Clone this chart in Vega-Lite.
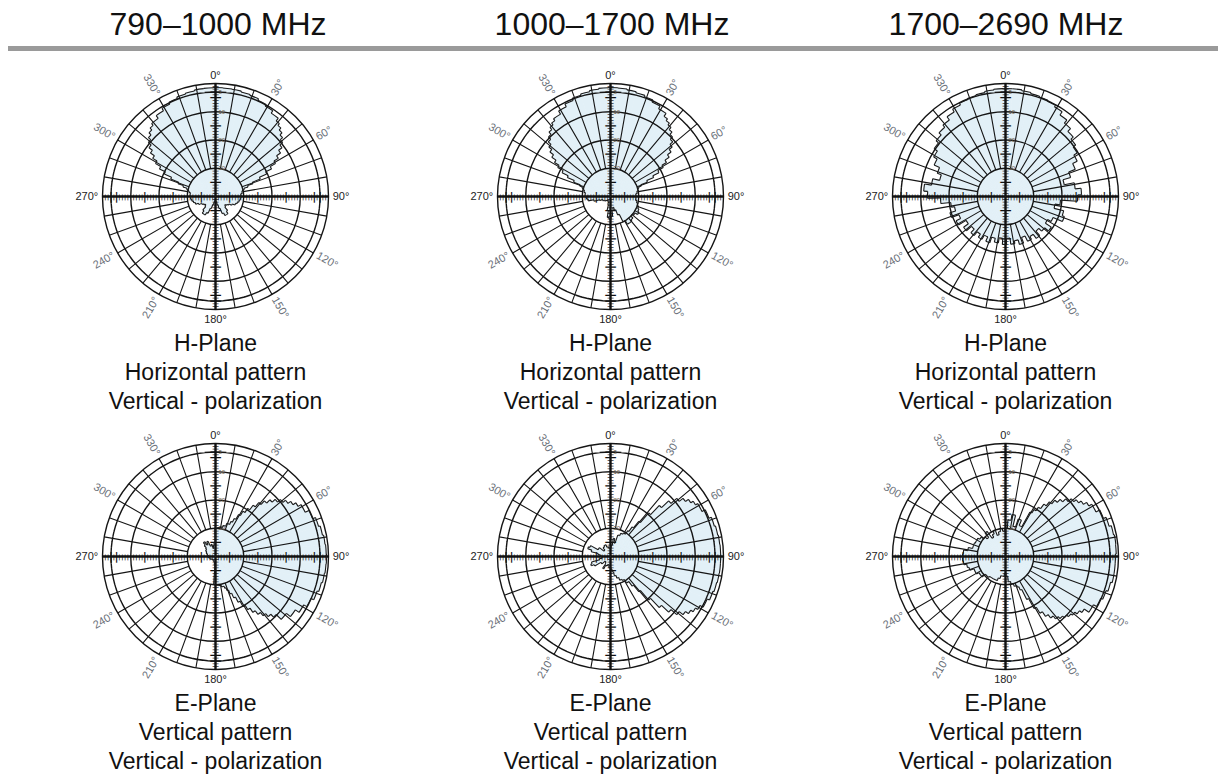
{
"$schema": "https://vega.github.io/schema/vega-lite/v6.json",
"padding": {"left": 8, "top": 0, "right": 0, "bottom": 0},
"bounds": "flush",
"spacing": 2,
"config": {"view": {"stroke": null}, "font": "Liberation Sans"},
"datasets": {
"rings": [{"r": -30}, {"r": -20}, {"r": -10}, {"r": 0}],
"dashed": [{"r": -3}],
"spokes": [{"deg":10},{"deg":20},{"deg":30},{"deg":40},{"deg":50},{"deg":60},{"deg":70},{"deg":80},{"deg":100},{"deg":110},{"deg":120},{"deg":130},{"deg":140},{"deg":150},{"deg":160},{"deg":170},{"deg":190},{"deg":200},{"deg":210},{"deg":220},{"deg":230},{"deg":240},{"deg":250},{"deg":260},{"deg":280},{"deg":290},{"deg":300},{"deg":310},{"deg":320},{"deg":330},{"deg":340},{"deg":350}],
"axes": [{"deg":0},{"deg":90},{"deg":180},{"deg":270}],
"ticks": [{"db":-39,"k":"minor"},{"db":-38,"k":"minor"},{"db":-37,"k":"minor"},{"db":-36,"k":"minor"},{"db":-35,"k":"major"},{"db":-34,"k":"minor"},{"db":-33,"k":"minor"},{"db":-32,"k":"minor"},{"db":-31,"k":"minor"},{"db":-29,"k":"minor"},{"db":-28,"k":"minor"},{"db":-27,"k":"minor"},{"db":-26,"k":"minor"},{"db":-25,"k":"major"},{"db":-24,"k":"minor"},{"db":-23,"k":"minor"},{"db":-22,"k":"minor"},{"db":-21,"k":"minor"},{"db":-19,"k":"minor"},{"db":-18,"k":"minor"},{"db":-17,"k":"minor"},{"db":-16,"k":"minor"},{"db":-15,"k":"major"},{"db":-14,"k":"minor"},{"db":-13,"k":"minor"},{"db":-12,"k":"minor"},{"db":-11,"k":"minor"},{"db":-9,"k":"minor"},{"db":-8,"k":"minor"},{"db":-7,"k":"minor"},{"db":-6,"k":"minor"},{"db":-5,"k":"major"},{"db":-4,"k":"minor"},{"db":-3,"k":"major"},{"db":-2,"k":"minor"},{"db":-1,"k":"minor"}],
"dblabels": [{"db":-3,"t":"3"},{"db":-10,"t":"10"},{"db":-20,"t":"20"},{"db":-30,"t":"30"}],
"angles": [{"deg":0,"t":"0°"},{"deg":30,"t":"30°"},{"deg":60,"t":"60°"},{"deg":90,"t":"90°"},{"deg":120,"t":"120°"},{"deg":150,"t":"150°"},{"deg":180,"t":"180°"},{"deg":210,"t":"210°"},{"deg":240,"t":"240°"},{"deg":270,"t":"270°"},{"deg":300,"t":"300°"},{"deg":330,"t":"330°"}],
"pattern": [
{"band":"790–1000 MHz","plane":"H","deg":0,"db":-1.4},{"band":"790–1000 MHz","plane":"H","deg":5,"db":-1.5},{"band":"790–1000 MHz","plane":"H","deg":10,"db":-1.6},{"band":"790–1000 MHz","plane":"H","deg":15,"db":-1.9},{"band":"790–1000 MHz","plane":"H","deg":20,"db":-2.2},{"band":"790–1000 MHz","plane":"H","deg":25,"db":-2.8},{"band":"790–1000 MHz","plane":"H","deg":30,"db":-3.5},{"band":"790–1000 MHz","plane":"H","deg":35,"db":-4.5},{"band":"790–1000 MHz","plane":"H","deg":40,"db":-5.7},{"band":"790–1000 MHz","plane":"H","deg":42.5,"db":-6.5},{"band":"790–1000 MHz","plane":"H","deg":45,"db":-7.4},{"band":"790–1000 MHz","plane":"H","deg":47.5,"db":-8.4},{"band":"790–1000 MHz","plane":"H","deg":50,"db":-9.5},{"band":"790–1000 MHz","plane":"H","deg":52.5,"db":-10.8},{"band":"790–1000 MHz","plane":"H","deg":55,"db":-12.3},{"band":"790–1000 MHz","plane":"H","deg":57.5,"db":-14},{"band":"790–1000 MHz","plane":"H","deg":60,"db":-15.8},{"band":"790–1000 MHz","plane":"H","deg":62.5,"db":-17.9},{"band":"790–1000 MHz","plane":"H","deg":65,"db":-20.2},{"band":"790–1000 MHz","plane":"H","deg":67.5,"db":-23},{"band":"790–1000 MHz","plane":"H","deg":70,"db":-26},{"band":"790–1000 MHz","plane":"H","deg":72.5,"db":-28},{"band":"790–1000 MHz","plane":"H","deg":75,"db":-29.5},{"band":"790–1000 MHz","plane":"H","deg":77.5,"db":-30.2},{"band":"790–1000 MHz","plane":"H","deg":80,"db":-30.5},{"band":"790–1000 MHz","plane":"H","deg":85,"db":-31},{"band":"790–1000 MHz","plane":"H","deg":90,"db":-31},{"band":"790–1000 MHz","plane":"H","deg":95,"db":-31.2},{"band":"790–1000 MHz","plane":"H","deg":100,"db":-31.5},{"band":"790–1000 MHz","plane":"H","deg":105,"db":-32},{"band":"790–1000 MHz","plane":"H","deg":110,"db":-32.5},{"band":"790–1000 MHz","plane":"H","deg":115,"db":-33.5},{"band":"790–1000 MHz","plane":"H","deg":120,"db":-34.5},{"band":"790–1000 MHz","plane":"H","deg":125,"db":-35},{"band":"790–1000 MHz","plane":"H","deg":130,"db":-35.5},{"band":"790–1000 MHz","plane":"H","deg":135,"db":-35},{"band":"790–1000 MHz","plane":"H","deg":140,"db":-33.5},{"band":"790–1000 MHz","plane":"H","deg":145,"db":-32.5},{"band":"790–1000 MHz","plane":"H","deg":150,"db":-32.5},{"band":"790–1000 MHz","plane":"H","deg":155,"db":-33.5},{"band":"790–1000 MHz","plane":"H","deg":160,"db":-35.5},{"band":"790–1000 MHz","plane":"H","deg":165,"db":-37},{"band":"790–1000 MHz","plane":"H","deg":170,"db":-38},{"band":"790–1000 MHz","plane":"H","deg":175,"db":-38.5},{"band":"790–1000 MHz","plane":"H","deg":180,"db":-38.5},{"band":"790–1000 MHz","plane":"H","deg":185,"db":-38.5},{"band":"790–1000 MHz","plane":"H","deg":190,"db":-38},{"band":"790–1000 MHz","plane":"H","deg":195,"db":-37},{"band":"790–1000 MHz","plane":"H","deg":200,"db":-35.5},{"band":"790–1000 MHz","plane":"H","deg":205,"db":-33.5},{"band":"790–1000 MHz","plane":"H","deg":210,"db":-32.5},{"band":"790–1000 MHz","plane":"H","deg":215,"db":-32.5},{"band":"790–1000 MHz","plane":"H","deg":220,"db":-33.5},{"band":"790–1000 MHz","plane":"H","deg":225,"db":-35},{"band":"790–1000 MHz","plane":"H","deg":230,"db":-35.5},{"band":"790–1000 MHz","plane":"H","deg":235,"db":-35},{"band":"790–1000 MHz","plane":"H","deg":240,"db":-34.5},{"band":"790–1000 MHz","plane":"H","deg":245,"db":-33.5},{"band":"790–1000 MHz","plane":"H","deg":250,"db":-32.5},{"band":"790–1000 MHz","plane":"H","deg":255,"db":-32},{"band":"790–1000 MHz","plane":"H","deg":260,"db":-31.5},{"band":"790–1000 MHz","plane":"H","deg":265,"db":-31.2},{"band":"790–1000 MHz","plane":"H","deg":270,"db":-31},{"band":"790–1000 MHz","plane":"H","deg":275,"db":-31},{"band":"790–1000 MHz","plane":"H","deg":280,"db":-30.5},{"band":"790–1000 MHz","plane":"H","deg":282.5,"db":-30.2},{"band":"790–1000 MHz","plane":"H","deg":285,"db":-29.5},{"band":"790–1000 MHz","plane":"H","deg":287.5,"db":-28},{"band":"790–1000 MHz","plane":"H","deg":290,"db":-26},{"band":"790–1000 MHz","plane":"H","deg":292.5,"db":-23},{"band":"790–1000 MHz","plane":"H","deg":295,"db":-20.2},{"band":"790–1000 MHz","plane":"H","deg":297.5,"db":-17.9},{"band":"790–1000 MHz","plane":"H","deg":300,"db":-15.8},{"band":"790–1000 MHz","plane":"H","deg":302.5,"db":-14},{"band":"790–1000 MHz","plane":"H","deg":305,"db":-12.3},{"band":"790–1000 MHz","plane":"H","deg":307.5,"db":-10.8},{"band":"790–1000 MHz","plane":"H","deg":310,"db":-9.5},{"band":"790–1000 MHz","plane":"H","deg":312.5,"db":-8.4},{"band":"790–1000 MHz","plane":"H","deg":315,"db":-7.4},{"band":"790–1000 MHz","plane":"H","deg":317.5,"db":-6.5},{"band":"790–1000 MHz","plane":"H","deg":320,"db":-5.7},{"band":"790–1000 MHz","plane":"H","deg":325,"db":-4.5},{"band":"790–1000 MHz","plane":"H","deg":330,"db":-3.5},{"band":"790–1000 MHz","plane":"H","deg":335,"db":-2.8},{"band":"790–1000 MHz","plane":"H","deg":340,"db":-2.2},{"band":"790–1000 MHz","plane":"H","deg":345,"db":-1.9},{"band":"790–1000 MHz","plane":"H","deg":350,"db":-1.6},{"band":"790–1000 MHz","plane":"H","deg":355,"db":-1.5},{"band":"790–1000 MHz","plane":"H","deg":360,"db":-1.4},
{"band":"1000–1700 MHz","plane":"H","deg":0,"db":-1.4},{"band":"1000–1700 MHz","plane":"H","deg":5,"db":-1.5},{"band":"1000–1700 MHz","plane":"H","deg":10,"db":-1.8},{"band":"1000–1700 MHz","plane":"H","deg":15,"db":-2.2},{"band":"1000–1700 MHz","plane":"H","deg":20,"db":-2.7},{"band":"1000–1700 MHz","plane":"H","deg":25,"db":-3.5},{"band":"1000–1700 MHz","plane":"H","deg":30,"db":-4.6},{"band":"1000–1700 MHz","plane":"H","deg":35,"db":-5.9},{"band":"1000–1700 MHz","plane":"H","deg":37.5,"db":-6.7},{"band":"1000–1700 MHz","plane":"H","deg":40,"db":-7.5},{"band":"1000–1700 MHz","plane":"H","deg":42.5,"db":-8.5},{"band":"1000–1700 MHz","plane":"H","deg":45,"db":-9.6},{"band":"1000–1700 MHz","plane":"H","deg":47.5,"db":-10.7},{"band":"1000–1700 MHz","plane":"H","deg":50,"db":-12},{"band":"1000–1700 MHz","plane":"H","deg":52.5,"db":-13.4},{"band":"1000–1700 MHz","plane":"H","deg":55,"db":-15},{"band":"1000–1700 MHz","plane":"H","deg":57.5,"db":-16.8},{"band":"1000–1700 MHz","plane":"H","deg":60,"db":-18.7},{"band":"1000–1700 MHz","plane":"H","deg":62.5,"db":-20.9},{"band":"1000–1700 MHz","plane":"H","deg":65,"db":-23.3},{"band":"1000–1700 MHz","plane":"H","deg":67.5,"db":-26},{"band":"1000–1700 MHz","plane":"H","deg":70,"db":-28.5},{"band":"1000–1700 MHz","plane":"H","deg":72.5,"db":-29.5},{"band":"1000–1700 MHz","plane":"H","deg":75,"db":-30},{"band":"1000–1700 MHz","plane":"H","deg":80,"db":-30.5},{"band":"1000–1700 MHz","plane":"H","deg":85,"db":-31},{"band":"1000–1700 MHz","plane":"H","deg":90,"db":-31},{"band":"1000–1700 MHz","plane":"H","deg":95,"db":-31},{"band":"1000–1700 MHz","plane":"H","deg":100,"db":-30.5},{"band":"1000–1700 MHz","plane":"H","deg":105,"db":-30},{"band":"1000–1700 MHz","plane":"H","deg":110,"db":-29.5},{"band":"1000–1700 MHz","plane":"H","deg":115,"db":-29},{"band":"1000–1700 MHz","plane":"H","deg":120,"db":-28.5},{"band":"1000–1700 MHz","plane":"H","deg":125,"db":-29.5},{"band":"1000–1700 MHz","plane":"H","deg":130,"db":-30},{"band":"1000–1700 MHz","plane":"H","deg":135,"db":-29},{"band":"1000–1700 MHz","plane":"H","deg":140,"db":-28.5},{"band":"1000–1700 MHz","plane":"H","deg":145,"db":-28.5},{"band":"1000–1700 MHz","plane":"H","deg":150,"db":-30},{"band":"1000–1700 MHz","plane":"H","deg":155,"db":-33},{"band":"1000–1700 MHz","plane":"H","deg":160,"db":-35},{"band":"1000–1700 MHz","plane":"H","deg":165,"db":-36},{"band":"1000–1700 MHz","plane":"H","deg":170,"db":-35},{"band":"1000–1700 MHz","plane":"H","deg":175,"db":-33},{"band":"1000–1700 MHz","plane":"H","deg":180,"db":-32},{"band":"1000–1700 MHz","plane":"H","deg":185,"db":-32.5},{"band":"1000–1700 MHz","plane":"H","deg":190,"db":-35},{"band":"1000–1700 MHz","plane":"H","deg":195,"db":-37},{"band":"1000–1700 MHz","plane":"H","deg":200,"db":-38},{"band":"1000–1700 MHz","plane":"H","deg":210,"db":-38.5},{"band":"1000–1700 MHz","plane":"H","deg":220,"db":-38},{"band":"1000–1700 MHz","plane":"H","deg":230,"db":-37.5},{"band":"1000–1700 MHz","plane":"H","deg":240,"db":-37},{"band":"1000–1700 MHz","plane":"H","deg":250,"db":-36},{"band":"1000–1700 MHz","plane":"H","deg":255,"db":-34},{"band":"1000–1700 MHz","plane":"H","deg":260,"db":-32},{"band":"1000–1700 MHz","plane":"H","deg":265,"db":-31.5},{"band":"1000–1700 MHz","plane":"H","deg":270,"db":-31},{"band":"1000–1700 MHz","plane":"H","deg":275,"db":-31},{"band":"1000–1700 MHz","plane":"H","deg":280,"db":-30.5},{"band":"1000–1700 MHz","plane":"H","deg":285,"db":-30},{"band":"1000–1700 MHz","plane":"H","deg":287.5,"db":-29.5},{"band":"1000–1700 MHz","plane":"H","deg":290,"db":-28.5},{"band":"1000–1700 MHz","plane":"H","deg":292.5,"db":-26},{"band":"1000–1700 MHz","plane":"H","deg":295,"db":-23.3},{"band":"1000–1700 MHz","plane":"H","deg":297.5,"db":-20.9},{"band":"1000–1700 MHz","plane":"H","deg":300,"db":-18.7},{"band":"1000–1700 MHz","plane":"H","deg":302.5,"db":-16.8},{"band":"1000–1700 MHz","plane":"H","deg":305,"db":-15},{"band":"1000–1700 MHz","plane":"H","deg":307.5,"db":-13.4},{"band":"1000–1700 MHz","plane":"H","deg":310,"db":-12},{"band":"1000–1700 MHz","plane":"H","deg":312.5,"db":-10.7},{"band":"1000–1700 MHz","plane":"H","deg":315,"db":-9.6},{"band":"1000–1700 MHz","plane":"H","deg":317.5,"db":-8.5},{"band":"1000–1700 MHz","plane":"H","deg":320,"db":-7.5},{"band":"1000–1700 MHz","plane":"H","deg":322.5,"db":-6.7},{"band":"1000–1700 MHz","plane":"H","deg":325,"db":-5.9},{"band":"1000–1700 MHz","plane":"H","deg":330,"db":-4.6},{"band":"1000–1700 MHz","plane":"H","deg":335,"db":-3.5},{"band":"1000–1700 MHz","plane":"H","deg":340,"db":-2.7},{"band":"1000–1700 MHz","plane":"H","deg":345,"db":-2.2},{"band":"1000–1700 MHz","plane":"H","deg":350,"db":-1.8},{"band":"1000–1700 MHz","plane":"H","deg":355,"db":-1.5},{"band":"1000–1700 MHz","plane":"H","deg":360,"db":-1.4},
{"band":"1700–2690 MHz","plane":"H","deg":0,"db":-1.8},{"band":"1700–2690 MHz","plane":"H","deg":5,"db":-1.8},{"band":"1700–2690 MHz","plane":"H","deg":10,"db":-2.1},{"band":"1700–2690 MHz","plane":"H","deg":15,"db":-2.5},{"band":"1700–2690 MHz","plane":"H","deg":20,"db":-2.8},{"band":"1700–2690 MHz","plane":"H","deg":25,"db":-3.2},{"band":"1700–2690 MHz","plane":"H","deg":30,"db":-3.9},{"band":"1700–2690 MHz","plane":"H","deg":35,"db":-5.3},{"band":"1700–2690 MHz","plane":"H","deg":40,"db":-6.7},{"band":"1700–2690 MHz","plane":"H","deg":45,"db":-8.1},{"band":"1700–2690 MHz","plane":"H","deg":50,"db":-9.2},{"band":"1700–2690 MHz","plane":"H","deg":55,"db":-10.3},{"band":"1700–2690 MHz","plane":"H","deg":60,"db":-11.7},{"band":"1700–2690 MHz","plane":"H","deg":65,"db":-13.5},{"band":"1700–2690 MHz","plane":"H","deg":70,"db":-16},{"band":"1700–2690 MHz","plane":"H","deg":75,"db":-18.8},{"band":"1700–2690 MHz","plane":"H","deg":80,"db":-15.2},{"band":"1700–2690 MHz","plane":"H","deg":85,"db":-13.1},{"band":"1700–2690 MHz","plane":"H","deg":90,"db":-14.5},{"band":"1700–2690 MHz","plane":"H","deg":95,"db":-20.5},{"band":"1700–2690 MHz","plane":"H","deg":100,"db":-22.3},{"band":"1700–2690 MHz","plane":"H","deg":105,"db":-18.8},{"band":"1700–2690 MHz","plane":"H","deg":110,"db":-18},{"band":"1700–2690 MHz","plane":"H","deg":115,"db":-21.6},{"band":"1700–2690 MHz","plane":"H","deg":120,"db":-23},{"band":"1700–2690 MHz","plane":"H","deg":125,"db":-20.5},{"band":"1700–2690 MHz","plane":"H","deg":130,"db":-22.3},{"band":"1700–2690 MHz","plane":"H","deg":135,"db":-23.7},{"band":"1700–2690 MHz","plane":"H","deg":140,"db":-21.6},{"band":"1700–2690 MHz","plane":"H","deg":145,"db":-23.4},{"band":"1700–2690 MHz","plane":"H","deg":150,"db":-22.3},{"band":"1700–2690 MHz","plane":"H","deg":155,"db":-24.4},{"band":"1700–2690 MHz","plane":"H","deg":160,"db":-22.3},{"band":"1700–2690 MHz","plane":"H","deg":165,"db":-24},{"band":"1700–2690 MHz","plane":"H","deg":170,"db":-23},{"band":"1700–2690 MHz","plane":"H","deg":175,"db":-25.2},{"band":"1700–2690 MHz","plane":"H","deg":180,"db":-23},{"band":"1700–2690 MHz","plane":"H","deg":185,"db":-25.2},{"band":"1700–2690 MHz","plane":"H","deg":190,"db":-23.4},{"band":"1700–2690 MHz","plane":"H","deg":195,"db":-24.8},{"band":"1700–2690 MHz","plane":"H","deg":200,"db":-22.7},{"band":"1700–2690 MHz","plane":"H","deg":205,"db":-24.4},{"band":"1700–2690 MHz","plane":"H","deg":210,"db":-22.7},{"band":"1700–2690 MHz","plane":"H","deg":215,"db":-24},{"band":"1700–2690 MHz","plane":"H","deg":220,"db":-22.3},{"band":"1700–2690 MHz","plane":"H","deg":225,"db":-24},{"band":"1700–2690 MHz","plane":"H","deg":230,"db":-21.6},{"band":"1700–2690 MHz","plane":"H","deg":235,"db":-23.7},{"band":"1700–2690 MHz","plane":"H","deg":240,"db":-20.5},{"band":"1700–2690 MHz","plane":"H","deg":245,"db":-22.3},{"band":"1700–2690 MHz","plane":"H","deg":250,"db":-19.5},{"band":"1700–2690 MHz","plane":"H","deg":255,"db":-21.6},{"band":"1700–2690 MHz","plane":"H","deg":260,"db":-20.5},{"band":"1700–2690 MHz","plane":"H","deg":265,"db":-17},{"band":"1700–2690 MHz","plane":"H","deg":270,"db":-12.4},{"band":"1700–2690 MHz","plane":"H","deg":275,"db":-11},{"band":"1700–2690 MHz","plane":"H","deg":280,"db":-13.5},{"band":"1700–2690 MHz","plane":"H","deg":285,"db":-16},{"band":"1700–2690 MHz","plane":"H","deg":290,"db":-14.5},{"band":"1700–2690 MHz","plane":"H","deg":295,"db":-12.4},{"band":"1700–2690 MHz","plane":"H","deg":300,"db":-11},{"band":"1700–2690 MHz","plane":"H","deg":305,"db":-9.6},{"band":"1700–2690 MHz","plane":"H","deg":310,"db":-8.5},{"band":"1700–2690 MHz","plane":"H","deg":315,"db":-7.4},{"band":"1700–2690 MHz","plane":"H","deg":320,"db":-6.4},{"band":"1700–2690 MHz","plane":"H","deg":325,"db":-5},{"band":"1700–2690 MHz","plane":"H","deg":330,"db":-3.9},{"band":"1700–2690 MHz","plane":"H","deg":335,"db":-3.2},{"band":"1700–2690 MHz","plane":"H","deg":340,"db":-2.8},{"band":"1700–2690 MHz","plane":"H","deg":345,"db":-2.5},{"band":"1700–2690 MHz","plane":"H","deg":350,"db":-2.1},{"band":"1700–2690 MHz","plane":"H","deg":355,"db":-1.8},{"band":"1700–2690 MHz","plane":"H","deg":360,"db":-1.8},
{"band":"790–1000 MHz","plane":"E","deg":0,"db":-30},{"band":"790–1000 MHz","plane":"E","deg":5,"db":-29.7},{"band":"790–1000 MHz","plane":"E","deg":10,"db":-29.4},{"band":"790–1000 MHz","plane":"E","deg":15,"db":-28.7},{"band":"790–1000 MHz","plane":"E","deg":20,"db":-27.6},{"band":"790–1000 MHz","plane":"E","deg":25,"db":-26.5},{"band":"790–1000 MHz","plane":"E","deg":27.5,"db":-25},{"band":"790–1000 MHz","plane":"E","deg":30,"db":-23},{"band":"790–1000 MHz","plane":"E","deg":32.5,"db":-21.3},{"band":"790–1000 MHz","plane":"E","deg":35,"db":-19.5},{"band":"790–1000 MHz","plane":"E","deg":37.5,"db":-17.5},{"band":"790–1000 MHz","plane":"E","deg":40,"db":-15.5},{"band":"790–1000 MHz","plane":"E","deg":42.5,"db":-13.8},{"band":"790–1000 MHz","plane":"E","deg":45,"db":-12.2},{"band":"790–1000 MHz","plane":"E","deg":47.5,"db":-10.8},{"band":"790–1000 MHz","plane":"E","deg":50,"db":-9.4},{"band":"790–1000 MHz","plane":"E","deg":52.5,"db":-8.2},{"band":"790–1000 MHz","plane":"E","deg":55,"db":-7},{"band":"790–1000 MHz","plane":"E","deg":57.5,"db":-5.8},{"band":"790–1000 MHz","plane":"E","deg":60,"db":-4.6},{"band":"790–1000 MHz","plane":"E","deg":65,"db":-3.1},{"band":"790–1000 MHz","plane":"E","deg":70,"db":-2},{"band":"790–1000 MHz","plane":"E","deg":75,"db":-1.4},{"band":"790–1000 MHz","plane":"E","deg":80,"db":-1},{"band":"790–1000 MHz","plane":"E","deg":85,"db":-0.8},{"band":"790–1000 MHz","plane":"E","deg":90,"db":-0.7},{"band":"790–1000 MHz","plane":"E","deg":95,"db":-0.8},{"band":"790–1000 MHz","plane":"E","deg":100,"db":-1},{"band":"790–1000 MHz","plane":"E","deg":105,"db":-1.4},{"band":"790–1000 MHz","plane":"E","deg":110,"db":-2},{"band":"790–1000 MHz","plane":"E","deg":115,"db":-3.1},{"band":"790–1000 MHz","plane":"E","deg":120,"db":-4.4},{"band":"790–1000 MHz","plane":"E","deg":125,"db":-6},{"band":"790–1000 MHz","plane":"E","deg":130,"db":-7.8},{"band":"790–1000 MHz","plane":"E","deg":135,"db":-10.3},{"band":"790–1000 MHz","plane":"E","deg":137.5,"db":-11.7},{"band":"790–1000 MHz","plane":"E","deg":140,"db":-13.1},{"band":"790–1000 MHz","plane":"E","deg":142.5,"db":-14.6},{"band":"790–1000 MHz","plane":"E","deg":145,"db":-16.2},{"band":"790–1000 MHz","plane":"E","deg":147.5,"db":-18},{"band":"790–1000 MHz","plane":"E","deg":150,"db":-19.8},{"band":"790–1000 MHz","plane":"E","deg":152.5,"db":-21.9},{"band":"790–1000 MHz","plane":"E","deg":155,"db":-24},{"band":"790–1000 MHz","plane":"E","deg":157.5,"db":-25.8},{"band":"790–1000 MHz","plane":"E","deg":160,"db":-27.3},{"band":"790–1000 MHz","plane":"E","deg":162.5,"db":-28.3},{"band":"790–1000 MHz","plane":"E","deg":165,"db":-29},{"band":"790–1000 MHz","plane":"E","deg":170,"db":-29.6},{"band":"790–1000 MHz","plane":"E","deg":175,"db":-29.8},{"band":"790–1000 MHz","plane":"E","deg":180,"db":-30},{"band":"790–1000 MHz","plane":"E","deg":185,"db":-37},{"band":"790–1000 MHz","plane":"E","deg":190,"db":-38},{"band":"790–1000 MHz","plane":"E","deg":200,"db":-38.5},{"band":"790–1000 MHz","plane":"E","deg":210,"db":-38.5},{"band":"790–1000 MHz","plane":"E","deg":220,"db":-38.5},{"band":"790–1000 MHz","plane":"E","deg":230,"db":-38.5},{"band":"790–1000 MHz","plane":"E","deg":240,"db":-38},{"band":"790–1000 MHz","plane":"E","deg":250,"db":-38},{"band":"790–1000 MHz","plane":"E","deg":260,"db":-37.5},{"band":"790–1000 MHz","plane":"E","deg":270,"db":-37.5},{"band":"790–1000 MHz","plane":"E","deg":280,"db":-37},{"band":"790–1000 MHz","plane":"E","deg":290,"db":-36.5},{"band":"790–1000 MHz","plane":"E","deg":300,"db":-36},{"band":"790–1000 MHz","plane":"E","deg":310,"db":-35.5},{"band":"790–1000 MHz","plane":"E","deg":315,"db":-34.5},{"band":"790–1000 MHz","plane":"E","deg":320,"db":-33.5},{"band":"790–1000 MHz","plane":"E","deg":325,"db":-35},{"band":"790–1000 MHz","plane":"E","deg":330,"db":-34},{"band":"790–1000 MHz","plane":"E","deg":335,"db":-36},{"band":"790–1000 MHz","plane":"E","deg":340,"db":-35.5},{"band":"790–1000 MHz","plane":"E","deg":345,"db":-37},{"band":"790–1000 MHz","plane":"E","deg":350,"db":-36},{"band":"790–1000 MHz","plane":"E","deg":355,"db":-35},{"band":"790–1000 MHz","plane":"E","deg":360,"db":-30},
{"band":"1000–1700 MHz","plane":"E","deg":0,"db":-37},{"band":"1000–1700 MHz","plane":"E","deg":5,"db":-36},{"band":"1000–1700 MHz","plane":"E","deg":10,"db":-33.5},{"band":"1000–1700 MHz","plane":"E","deg":15,"db":-35},{"band":"1000–1700 MHz","plane":"E","deg":20,"db":-32},{"band":"1000–1700 MHz","plane":"E","deg":25,"db":-31},{"band":"1000–1700 MHz","plane":"E","deg":30,"db":-30.5},{"band":"1000–1700 MHz","plane":"E","deg":35,"db":-29},{"band":"1000–1700 MHz","plane":"E","deg":37.5,"db":-27},{"band":"1000–1700 MHz","plane":"E","deg":40,"db":-24},{"band":"1000–1700 MHz","plane":"E","deg":42.5,"db":-19.5},{"band":"1000–1700 MHz","plane":"E","deg":45,"db":-15},{"band":"1000–1700 MHz","plane":"E","deg":47.5,"db":-11.5},{"band":"1000–1700 MHz","plane":"E","deg":50,"db":-8.8},{"band":"1000–1700 MHz","plane":"E","deg":52.5,"db":-7.1},{"band":"1000–1700 MHz","plane":"E","deg":55,"db":-5.8},{"band":"1000–1700 MHz","plane":"E","deg":57.5,"db":-4.8},{"band":"1000–1700 MHz","plane":"E","deg":60,"db":-3.9},{"band":"1000–1700 MHz","plane":"E","deg":65,"db":-2.6},{"band":"1000–1700 MHz","plane":"E","deg":70,"db":-1.7},{"band":"1000–1700 MHz","plane":"E","deg":75,"db":-1.3},{"band":"1000–1700 MHz","plane":"E","deg":80,"db":-1.1},{"band":"1000–1700 MHz","plane":"E","deg":85,"db":-1},{"band":"1000–1700 MHz","plane":"E","deg":90,"db":-1},{"band":"1000–1700 MHz","plane":"E","deg":95,"db":-1},{"band":"1000–1700 MHz","plane":"E","deg":100,"db":-1.1},{"band":"1000–1700 MHz","plane":"E","deg":105,"db":-1.3},{"band":"1000–1700 MHz","plane":"E","deg":110,"db":-1.7},{"band":"1000–1700 MHz","plane":"E","deg":115,"db":-2.6},{"band":"1000–1700 MHz","plane":"E","deg":120,"db":-3.9},{"band":"1000–1700 MHz","plane":"E","deg":122.5,"db":-4.8},{"band":"1000–1700 MHz","plane":"E","deg":125,"db":-5.8},{"band":"1000–1700 MHz","plane":"E","deg":127.5,"db":-7.1},{"band":"1000–1700 MHz","plane":"E","deg":130,"db":-8.8},{"band":"1000–1700 MHz","plane":"E","deg":132.5,"db":-11.5},{"band":"1000–1700 MHz","plane":"E","deg":135,"db":-15},{"band":"1000–1700 MHz","plane":"E","deg":137.5,"db":-19.5},{"band":"1000–1700 MHz","plane":"E","deg":140,"db":-24},{"band":"1000–1700 MHz","plane":"E","deg":142.5,"db":-27},{"band":"1000–1700 MHz","plane":"E","deg":145,"db":-29},{"band":"1000–1700 MHz","plane":"E","deg":150,"db":-30.5},{"band":"1000–1700 MHz","plane":"E","deg":155,"db":-31},{"band":"1000–1700 MHz","plane":"E","deg":160,"db":-32},{"band":"1000–1700 MHz","plane":"E","deg":165,"db":-33},{"band":"1000–1700 MHz","plane":"E","deg":170,"db":-34.5},{"band":"1000–1700 MHz","plane":"E","deg":175,"db":-35.5},{"band":"1000–1700 MHz","plane":"E","deg":180,"db":-36},{"band":"1000–1700 MHz","plane":"E","deg":190,"db":-37},{"band":"1000–1700 MHz","plane":"E","deg":200,"db":-36.5},{"band":"1000–1700 MHz","plane":"E","deg":210,"db":-35},{"band":"1000–1700 MHz","plane":"E","deg":215,"db":-37},{"band":"1000–1700 MHz","plane":"E","deg":220,"db":-37.5},{"band":"1000–1700 MHz","plane":"E","deg":230,"db":-36},{"band":"1000–1700 MHz","plane":"E","deg":240,"db":-33.5},{"band":"1000–1700 MHz","plane":"E","deg":245,"db":-32.5},{"band":"1000–1700 MHz","plane":"E","deg":250,"db":-33},{"band":"1000–1700 MHz","plane":"E","deg":255,"db":-36},{"band":"1000–1700 MHz","plane":"E","deg":260,"db":-37},{"band":"1000–1700 MHz","plane":"E","deg":270,"db":-36.5},{"band":"1000–1700 MHz","plane":"E","deg":280,"db":-35.5},{"band":"1000–1700 MHz","plane":"E","deg":285,"db":-33},{"band":"1000–1700 MHz","plane":"E","deg":290,"db":-31.5},{"band":"1000–1700 MHz","plane":"E","deg":295,"db":-32},{"band":"1000–1700 MHz","plane":"E","deg":300,"db":-35},{"band":"1000–1700 MHz","plane":"E","deg":310,"db":-37},{"band":"1000–1700 MHz","plane":"E","deg":320,"db":-36},{"band":"1000–1700 MHz","plane":"E","deg":330,"db":-35.5},{"band":"1000–1700 MHz","plane":"E","deg":340,"db":-36.5},{"band":"1000–1700 MHz","plane":"E","deg":350,"db":-37},{"band":"1000–1700 MHz","plane":"E","deg":360,"db":-37},
{"band":"1700–2690 MHz","plane":"E","deg":0,"db":-30},{"band":"1700–2690 MHz","plane":"E","deg":5,"db":-27},{"band":"1700–2690 MHz","plane":"E","deg":10,"db":-25},{"band":"1700–2690 MHz","plane":"E","deg":15,"db":-29},{"band":"1700–2690 MHz","plane":"E","deg":20,"db":-26},{"band":"1700–2690 MHz","plane":"E","deg":25,"db":-28},{"band":"1700–2690 MHz","plane":"E","deg":30,"db":-22},{"band":"1700–2690 MHz","plane":"E","deg":32.5,"db":-20.5},{"band":"1700–2690 MHz","plane":"E","deg":35,"db":-19},{"band":"1700–2690 MHz","plane":"E","deg":37.5,"db":-17},{"band":"1700–2690 MHz","plane":"E","deg":40,"db":-15.2},{"band":"1700–2690 MHz","plane":"E","deg":42.5,"db":-13.5},{"band":"1700–2690 MHz","plane":"E","deg":45,"db":-12},{"band":"1700–2690 MHz","plane":"E","deg":47.5,"db":-10.5},{"band":"1700–2690 MHz","plane":"E","deg":50,"db":-9},{"band":"1700–2690 MHz","plane":"E","deg":52.5,"db":-7.9},{"band":"1700–2690 MHz","plane":"E","deg":55,"db":-6.8},{"band":"1700–2690 MHz","plane":"E","deg":57.5,"db":-5.5},{"band":"1700–2690 MHz","plane":"E","deg":60,"db":-4.3},{"band":"1700–2690 MHz","plane":"E","deg":65,"db":-2.8},{"band":"1700–2690 MHz","plane":"E","deg":70,"db":-1.8},{"band":"1700–2690 MHz","plane":"E","deg":75,"db":-1},{"band":"1700–2690 MHz","plane":"E","deg":80,"db":-0.7},{"band":"1700–2690 MHz","plane":"E","deg":85,"db":-0.8},{"band":"1700–2690 MHz","plane":"E","deg":90,"db":-1.1},{"band":"1700–2690 MHz","plane":"E","deg":95,"db":-1.1},{"band":"1700–2690 MHz","plane":"E","deg":100,"db":-1.1},{"band":"1700–2690 MHz","plane":"E","deg":105,"db":-1.7},{"band":"1700–2690 MHz","plane":"E","deg":110,"db":-2.4},{"band":"1700–2690 MHz","plane":"E","deg":115,"db":-3.2},{"band":"1700–2690 MHz","plane":"E","deg":120,"db":-4.5},{"band":"1700–2690 MHz","plane":"E","deg":125,"db":-6.5},{"band":"1700–2690 MHz","plane":"E","deg":127.5,"db":-7.5},{"band":"1700–2690 MHz","plane":"E","deg":130,"db":-8.5},{"band":"1700–2690 MHz","plane":"E","deg":132.5,"db":-9.2},{"band":"1700–2690 MHz","plane":"E","deg":135,"db":-10},{"band":"1700–2690 MHz","plane":"E","deg":137.5,"db":-10.8},{"band":"1700–2690 MHz","plane":"E","deg":140,"db":-11.7},{"band":"1700–2690 MHz","plane":"E","deg":142.5,"db":-13},{"band":"1700–2690 MHz","plane":"E","deg":145,"db":-14.5},{"band":"1700–2690 MHz","plane":"E","deg":147.5,"db":-16.5},{"band":"1700–2690 MHz","plane":"E","deg":150,"db":-19},{"band":"1700–2690 MHz","plane":"E","deg":152.5,"db":-23},{"band":"1700–2690 MHz","plane":"E","deg":155,"db":-27},{"band":"1700–2690 MHz","plane":"E","deg":157.5,"db":-28.3},{"band":"1700–2690 MHz","plane":"E","deg":160,"db":-29},{"band":"1700–2690 MHz","plane":"E","deg":165,"db":-30},{"band":"1700–2690 MHz","plane":"E","deg":170,"db":-31},{"band":"1700–2690 MHz","plane":"E","deg":175,"db":-33},{"band":"1700–2690 MHz","plane":"E","deg":180,"db":-34},{"band":"1700–2690 MHz","plane":"E","deg":185,"db":-33},{"band":"1700–2690 MHz","plane":"E","deg":190,"db":-33},{"band":"1700–2690 MHz","plane":"E","deg":195,"db":-32},{"band":"1700–2690 MHz","plane":"E","deg":200,"db":-31},{"band":"1700–2690 MHz","plane":"E","deg":210,"db":-31},{"band":"1700–2690 MHz","plane":"E","deg":220,"db":-30.5},{"band":"1700–2690 MHz","plane":"E","deg":230,"db":-29},{"band":"1700–2690 MHz","plane":"E","deg":240,"db":-28},{"band":"1700–2690 MHz","plane":"E","deg":250,"db":-26.5},{"band":"1700–2690 MHz","plane":"E","deg":255,"db":-26},{"band":"1700–2690 MHz","plane":"E","deg":260,"db":-25},{"band":"1700–2690 MHz","plane":"E","deg":265,"db":-24.8},{"band":"1700–2690 MHz","plane":"E","deg":270,"db":-24.8},{"band":"1700–2690 MHz","plane":"E","deg":275,"db":-25},{"band":"1700–2690 MHz","plane":"E","deg":280,"db":-26.5},{"band":"1700–2690 MHz","plane":"E","deg":285,"db":-28},{"band":"1700–2690 MHz","plane":"E","deg":290,"db":-28},{"band":"1700–2690 MHz","plane":"E","deg":295,"db":-28.3},{"band":"1700–2690 MHz","plane":"E","deg":300,"db":-28.3},{"band":"1700–2690 MHz","plane":"E","deg":305,"db":-29},{"band":"1700–2690 MHz","plane":"E","deg":310,"db":-30},{"band":"1700–2690 MHz","plane":"E","deg":315,"db":-31},{"band":"1700–2690 MHz","plane":"E","deg":320,"db":-29},{"band":"1700–2690 MHz","plane":"E","deg":325,"db":-32},{"band":"1700–2690 MHz","plane":"E","deg":330,"db":-31},{"band":"1700–2690 MHz","plane":"E","deg":335,"db":-30},{"band":"1700–2690 MHz","plane":"E","deg":340,"db":-32},{"band":"1700–2690 MHz","plane":"E","deg":345,"db":-31},{"band":"1700–2690 MHz","plane":"E","deg":350,"db":-30},{"band":"1700–2690 MHz","plane":"E","deg":355,"db":-31},{"band":"1700–2690 MHz","plane":"E","deg":360,"db":-30}
]
},
"vconcat": [
{
 "width": 1200, "height": 44,
 "data": {"values": [{"band":"790–1000 MHz"},{"band":"1000–1700 MHz"},{"band":"1700–2690 MHz"}]},
 "mark": {"type": "text", "font": "Liberation Sans", "fontSize": 32, "color": "#111111", "baseline": "middle", "dy": 3},
 "encoding": {
  "x": {"field": "band", "type": "nominal", "sort": null, "scale": {"type": "point", "range": [200, 988], "padding": 0}, "axis": null},
  "text": {"field": "band"}
 }
},
{
 "width": 1200, "height": 5,
 "data": {"values": [{"seg": "a"}]},
 "mark": {"type": "rect", "color": "#9a9a9a"},
 "encoding": {
  "x": {"datum": 0, "type": "quantitative", "scale": {"domain": [0, 1], "range": [-10, 1200]}, "axis": null},
  "x2": {"datum": 1}
 }
},
{
 "data": {"name": "pattern"},
 "bounds": "flush",
 "facet": {
  "row": {"field": "plane", "type": "nominal", "sort": ["H", "E"], "header": null},
  "column": {"field": "band", "type": "nominal", "sort": ["790–1000 MHz", "1000–1700 MHz", "1700–2690 MHz"], "header": null}
 },
 "spacing": {"row": 73, "column": 0},
 "spec": {
  "width": 395, "height": 287,
  "resolve": {"scale": {"theta": "independent"}},
  "layer": [
   {
    "transform": [
     {"window": [{"op": "lead", "field": "deg", "as": "deg2"}, {"op": "lead", "field": "db", "as": "db2"}], "groupby": ["band", "plane"], "sort": [{"field": "deg"}]},
     {"filter": "isValid(datum.deg2)"}
    ],
    "mark": {"type": "arc", "fill": "#e2f0f7", "stroke": "#e2f0f7", "strokeWidth": 0.6},
    "encoding": {
     "theta": {"field": "deg", "type": "quantitative", "stack": null, "scale": {"type": "linear", "domain": [0, 360], "range": [-0.021817, 6.261368], "zero": false, "nice": false}},
     "theta2": {"field": "deg2"},
     "radius": {"field": "db", "type": "quantitative", "scale": {"type": "linear", "domain": [-40, 0], "range": [0, 113], "zero": false, "nice": false}},
     "radius2": {"datum": -40}
    }
   },
   {
    "data": {"name": "rings"},
    "mark": {"type": "arc", "filled": false, "color": "#151515", "strokeWidth": 1.4},
    "encoding": {
     "theta": {"datum": 0, "type": "quantitative", "stack": null, "scale": {"type": "linear", "domain": [0, 360], "range": [0, 6.283185307179586], "zero": false, "nice": false}},
     "theta2": {"datum": 360},
     "radius": {"field": "r", "type": "quantitative", "scale": {"type": "linear", "domain": [-40, 0], "range": [0, 113], "zero": false, "nice": false}},
     "radius2": {"field": "r"}
    }
   },
   {
    "data": {"name": "dashed"},
    "mark": {"type": "arc", "filled": false, "color": "#151515", "strokeWidth": 1.4, "strokeDash": [11, 5]},
    "encoding": {
     "theta": {"datum": 0, "type": "quantitative", "stack": null, "scale": {"type": "linear", "domain": [0, 360], "range": [0, 6.283185307179586], "zero": false, "nice": false}},
     "theta2": {"datum": 360},
     "radius": {"field": "r", "type": "quantitative", "scale": {"type": "linear", "domain": [-40, 0], "range": [0, 113], "zero": false, "nice": false}},
     "radius2": {"field": "r"}
    }
   },
   {
    "data": {"name": "spokes"},
    "mark": {"type": "arc", "filled": false, "color": "#151515", "strokeWidth": 1.1},
    "encoding": {
     "theta": {"field": "deg", "type": "quantitative", "stack": null, "scale": {"type": "linear", "domain": [0, 360], "range": [0, 6.283185307179586], "zero": false, "nice": false}},
     "theta2": {"field": "deg"},
     "radius": {"datum": -30, "type": "quantitative", "scale": {"type": "linear", "domain": [-40, 0], "range": [0, 113], "zero": false, "nice": false}},
     "radius2": {"datum": 0}
    }
   },
   {
    "data": {"name": "axes"},
    "mark": {"type": "arc", "filled": false, "color": "#111111", "strokeWidth": 2.4},
    "encoding": {
     "theta": {"field": "deg", "type": "quantitative", "stack": null, "scale": {"type": "linear", "domain": [0, 360], "range": [0, 6.283185307179586], "zero": false, "nice": false}},
     "theta2": {"field": "deg"},
     "radius": {"datum": -40, "type": "quantitative", "scale": {"type": "linear", "domain": [-40, 0], "range": [0, 113], "zero": false, "nice": false}},
     "radius2": {"datum": 0}
    }
   },
   {
    "data": {"name": "ticks"},
    "mark": {"type": "text", "text": "|", "font": "DejaVu Sans", "fontWeight": "bold", "color": "#111111", "angle": 90, "baseline": "middle", "align": "center"},
    "encoding": {
     "theta": {"datum": 0, "type": "quantitative", "scale": {"type": "linear", "domain": [0, 360], "range": [0, 6.283185307179586], "zero": false, "nice": false}},
     "radius": {"field": "db", "type": "quantitative", "scale": {"type": "linear", "domain": [-40, 0], "range": [0, 113], "zero": false, "nice": false}},
     "size": {"field": "k", "type": "ordinal", "scale": {"domain": ["minor", "major"], "range": [6, 10]}, "legend": null}
    }
   },
   {
    "data": {"name": "ticks"},
    "mark": {"type": "text", "text": "|", "font": "DejaVu Sans", "fontWeight": "bold", "color": "#111111", "angle": 90, "baseline": "middle", "align": "center"},
    "encoding": {
     "theta": {"datum": 180, "type": "quantitative", "scale": {"type": "linear", "domain": [0, 360], "range": [0, 6.283185307179586], "zero": false, "nice": false}},
     "radius": {"field": "db", "type": "quantitative", "scale": {"type": "linear", "domain": [-40, 0], "range": [0, 113], "zero": false, "nice": false}},
     "size": {"field": "k", "type": "ordinal", "scale": {"domain": ["minor", "major"], "range": [6, 10]}, "legend": null}
    }
   },
   {
    "data": {"name": "ticks"},
    "mark": {"type": "text", "text": "|", "font": "DejaVu Sans", "fontWeight": "bold", "color": "#111111", "angle": 0, "baseline": "middle", "align": "center"},
    "encoding": {
     "theta": {"datum": 90, "type": "quantitative", "scale": {"type": "linear", "domain": [0, 360], "range": [0, 6.283185307179586], "zero": false, "nice": false}},
     "radius": {"field": "db", "type": "quantitative", "scale": {"type": "linear", "domain": [-40, 0], "range": [0, 113], "zero": false, "nice": false}},
     "size": {"field": "k", "type": "ordinal", "scale": {"domain": ["minor", "major"], "range": [6, 10]}, "legend": null}
    }
   },
   {
    "data": {"name": "ticks"},
    "mark": {"type": "text", "text": "|", "font": "DejaVu Sans", "fontWeight": "bold", "color": "#111111", "angle": 0, "baseline": "middle", "align": "center"},
    "encoding": {
     "theta": {"datum": 270, "type": "quantitative", "scale": {"type": "linear", "domain": [0, 360], "range": [0, 6.283185307179586], "zero": false, "nice": false}},
     "radius": {"field": "db", "type": "quantitative", "scale": {"type": "linear", "domain": [-40, 0], "range": [0, 113], "zero": false, "nice": false}},
     "size": {"field": "k", "type": "ordinal", "scale": {"domain": ["minor", "major"], "range": [6, 10]}, "legend": null}
    }
   },
   {
    "data": {"name": "dblabels"},
    "mark": {"type": "text", "font": "Liberation Sans", "fontSize": 6, "color": "#6b5a48", "align": "left", "baseline": "middle", "dx": 3},
    "encoding": {
     "theta": {"datum": 0, "type": "quantitative", "scale": {"type": "linear", "domain": [0, 360], "range": [0, 6.283185307179586], "zero": false, "nice": false}},
     "radius": {"field": "db", "type": "quantitative", "scale": {"type": "linear", "domain": [-40, 0], "range": [0, 113], "zero": false, "nice": false}},
     "text": {"field": "t"}
    }
   },
   {
    "transform": [
     {"window": [{"op": "lead", "field": "deg", "as": "deg2"}, {"op": "lead", "field": "db", "as": "db2"}], "groupby": ["band", "plane"], "sort": [{"field": "deg"}]},
     {"filter": "isValid(datum.deg2)"}
    ],
    "mark": {"type": "arc", "filled": false, "color": "#1a1a1a", "strokeWidth": 1.1},
    "encoding": {
     "theta": {"field": "deg", "type": "quantitative", "stack": null, "scale": {"type": "linear", "domain": [0, 360], "range": [-0.021817, 6.261368], "zero": false, "nice": false}},
     "theta2": {"field": "deg2"},
     "radius": {"field": "db", "type": "quantitative", "scale": {"type": "linear", "domain": [-40, 0], "range": [0, 113], "zero": false, "nice": false}},
     "radius2": {"field": "db"}
    }
   },
   {
    "transform": [
     {"window": [{"op": "lead", "field": "deg", "as": "deg2"}, {"op": "lead", "field": "db", "as": "db2"}], "groupby": ["band", "plane"], "sort": [{"field": "deg"}]},
     {"filter": "isValid(datum.deg2)"}
    ],
    "mark": {"type": "arc", "filled": false, "color": "#1a1a1a", "strokeWidth": 1.1},
    "encoding": {
     "theta": {"field": "deg2", "type": "quantitative", "stack": null, "scale": {"type": "linear", "domain": [0, 360], "range": [-0.021817, 6.261368], "zero": false, "nice": false}},
     "theta2": {"field": "deg2"},
     "radius": {"field": "db", "type": "quantitative", "scale": {"type": "linear", "domain": [-40, 0], "range": [0, 113], "zero": false, "nice": false}},
     "radius2": {"field": "db2"}
    }
   },
   {
    "data": {"name": "angles"},
    "mark": {"type": "text", "font": "Liberation Sans", "fontSize": 11,
             "align": {"expr": "datum.deg == 0 || datum.deg == 180 ? 'center' : (datum.deg < 180 ? 'left' : 'right')"},
             "baseline": {"expr": "datum.deg == 0 ? 'alphabetic' : (datum.deg == 180 ? 'top' : 'middle')"},
             "angle": {"expr": "datum.deg % 90 == 0 ? 0 : (datum.deg < 180 ? datum.deg - 90 : datum.deg - 270)"},
             "color": {"expr": "datum.deg % 90 == 0 ? '#222222' : '#6a7079'"}},
    "encoding": {
     "theta": {"field": "deg", "type": "quantitative", "stack": null, "scale": {"type": "linear", "domain": [0, 360], "range": [0, 6.283185307179586], "zero": false, "nice": false}},
     "radius": {"datum": 1.5, "type": "quantitative", "scale": {"type": "linear", "domain": [-40, 0], "range": [0, 113], "zero": false, "nice": false}},
     "text": {"field": "t"}
    }
   },
   {
    "transform": [
     {"filter": {"field": "deg", "equal": 0}},
     {"filter": {"field": "plane", "equal": "H"}}
    ],
    "mark": {"type": "text", "text": ["H-Plane", "Horizontal pattern", "Vertical - polarization"], "font": "Liberation Sans", "fontSize": 23, "align": "center", "baseline": "top", "lineHeight": 29, "color": "#111111"},
    "encoding": {
     "theta": {"datum": 180, "type": "quantitative", "scale": {"type": "linear", "domain": [0, 360], "range": [0, 6.283185307179586], "zero": false, "nice": false}},
     "radius": {"datum": 8.2, "type": "quantitative", "scale": {"type": "linear", "domain": [-40, 0], "range": [0, 113], "zero": false, "nice": false}}
    }
   },
   {
    "transform": [
     {"filter": {"field": "deg", "equal": 0}},
     {"filter": {"field": "plane", "equal": "E"}}
    ],
    "mark": {"type": "text", "text": ["E-Plane", "Vertical pattern", "Vertical - polarization"], "font": "Liberation Sans", "fontSize": 23, "align": "center", "baseline": "top", "lineHeight": 29, "color": "#111111"},
    "encoding": {
     "theta": {"datum": 180, "type": "quantitative", "scale": {"type": "linear", "domain": [0, 360], "range": [0, 6.283185307179586], "zero": false, "nice": false}},
     "radius": {"datum": 8.2, "type": "quantitative", "scale": {"type": "linear", "domain": [-40, 0], "range": [0, 113], "zero": false, "nice": false}}
    }
   }
  ]
 }
}
]
}
